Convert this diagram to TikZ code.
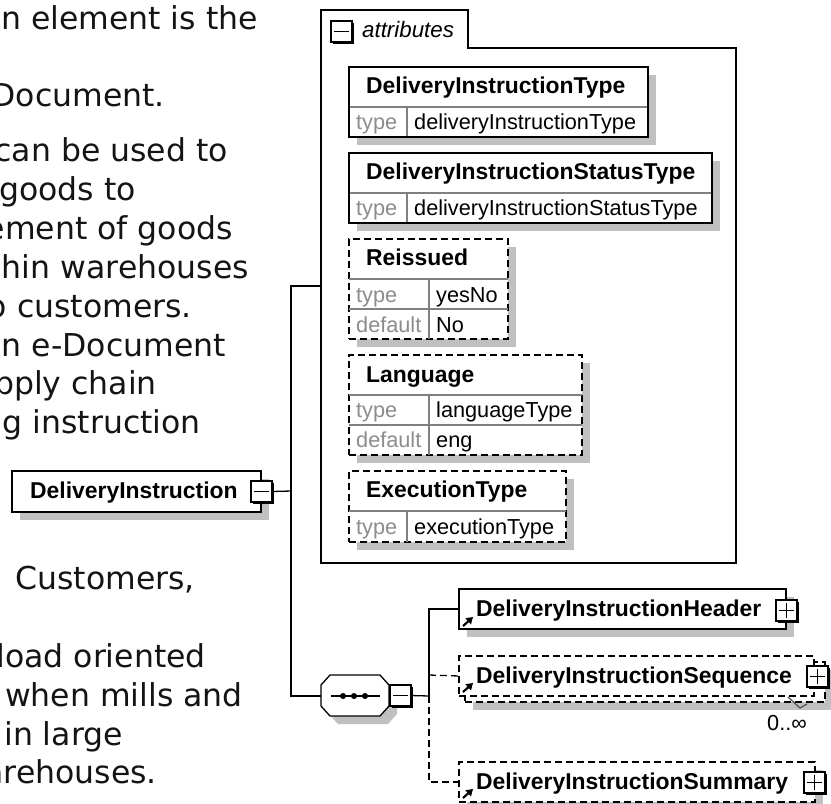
\documentclass[tikz,border=0pt]{standalone}
\usepackage{fontspec}
\setmainfont{Liberation Sans}
\newfontfamily\bodyfont{DejaVu Sans}
\usetikzlibrary{shadows,arrows.meta}
\definecolor{shade}{HTML}{C0C0C0}
\definecolor{rowgray}{HTML}{808080}
\definecolor{labelgray}{HTML}{8C8C8C}
\tikzset{
  basebox/.style={anchor=north west,inner sep=0,outer sep=0,fill=white,line width=1.3pt,
    drop shadow={shadow xshift=8pt,shadow yshift=-8pt,fill=shade,opacity=1}},
  solidbox/.style={basebox,draw=black},
  dashbox/.style={basebox,draw=black,dash pattern=on 7pt off 4pt},
  plainbox/.style={anchor=north west,inner sep=0,outer sep=0,fill=white,line width=1.3pt,draw=black,dash pattern=on 7pt off 4pt},
  pmbox/.style={anchor=north west,draw=black,fill=white,line width=1.3pt,inner sep=0,outer sep=0,
    minimum width=21pt,minimum height=21pt,
    drop shadow={shadow xshift=2pt,shadow yshift=-2pt,fill=black,opacity=1}},
  minusbox/.style={pmbox,path picture={\draw[line width=1.1pt] ([xshift=3pt]path picture bounding box.west)--([xshift=-3pt]path picture bounding box.east);}},
  plusbox/.style={pmbox,path picture={\draw[line width=1.1pt] ([xshift=3pt]path picture bounding box.west)--([xshift=-3pt]path picture bounding box.east);
    \draw[line width=1.1pt] ([yshift=-3pt]path picture bounding box.north)--([yshift=3pt]path picture bounding box.south);}},
  body/.style={anchor=base east,inner sep=0,font=\bodyfont\fontsize{31.5}{32}\selectfont,text=black!92},
  title/.style={anchor=base west,inner sep=0,font=\fontsize{22.9}{23}\selectfont\bfseries},
  val/.style={anchor=base west,inner sep=0,font=\fontsize{21.7}{22}\selectfont},
  lab/.style={val,text=labelgray},
  rowline/.style={draw=rowgray,line width=1.2pt},
  conn/.style={draw=black,line width=1.3pt},
  dconn/.style={conn,dash pattern=on 7pt off 4pt},
  linkarrow/.style={line width=2.2pt,-{Triangle[length=6.5pt,width=8pt]}}
}
\begin{document}
\begin{tikzpicture}[x=1pt,y=-1pt]
\useasboundingbox (0,0) rectangle (831,804);
\clip (0,0) rectangle (831,804);
% left text
\node[body] (t1) at (258,29) {n element is the};
\node[body] (t2) at (165,106) {Document.};
\node[body] (t3) at (228,161) {can be used to};
\node[body] (t4) at (136,200) {goods to};
\node[body] (t5) at (233,239) {ement of goods};
\node[body] (t6) at (249,278) {hin warehouses};
\node[body] (t7) at (192,317) {o customers.};
\node[body] (t8) at (226,356) {n e-Document};
\node[body] (t9) at (157,394) {pply chain};
\node[body] (t10) at (201,433) {g instruction};
\node[body] (t11) at (195,589) {Customers,};
\node[body] (t12) at (206,667) {load oriented};
\node[body] (t13) at (243,706) {when mills and};
\node[body] (t14) at (123,745) {in large};
\node[body] (t15) at (157,783) {arehouses.};
% connector ports
\coordinate (attrport) at (321,286);
\coordinate (treetop) at (291,286);
\coordinate (treemid) at (291,491);
\coordinate (jn) at (429,696);
\coordinate (jnseq) at (429,675);
\coordinate (seq) at (321,696);
% attribute container
\draw[line width=1.3pt,fill=white] (321,10) -- (468,10) -- (468,48) -- (736,48) -- (736,563) -- (321,563) -- cycle;
\node[minusbox] (attrmin) at (331,21) {};
\node[anchor=base west,inner sep=0,font=\fontsize{22.3}{22}\selectfont\itshape] (attrlab) at (362,37) {attributes};
% attr 1
\node[solidbox,minimum width=299pt,minimum height=70pt] (a1) at (349,67) {};
\draw[rowline] (349,107) -- (648,107) (407,107) -- (407,137);
\draw[conn] (a1.north west) rectangle (a1.south east);
\node[title] (a1t) at (366,93) {DeliveryInstructionType};
\node[lab] (a1l) at (356,129) {type};
\node[val] (a1v) at (414,129) {deliveryInstructionType};
% attr 2
\node[solidbox,minimum width=363pt,minimum height=70pt] (a2) at (349,153) {};
\draw[rowline] (349,193) -- (712,193) (407,193) -- (407,223);
\draw[conn] (a2.north west) rectangle (a2.south east);
\node[title] (a2t) at (366,179) {DeliveryInstructionStatusType};
\node[lab] (a2l) at (356,215) {type};
\node[val] (a2v) at (414,215) {deliveryInstructionStatusType};
% attr 3
\node[dashbox,minimum width=159pt,minimum height=100pt] (a3) at (349,239) {};
\draw[rowline] (349,279) -- (508,279) (349,309) -- (508,309) (429,279) -- (429,339);
\node[title] (a3t) at (366,265) {Reissued};
\node[lab] (a3l) at (356,302) {type};
\node[val] (a3v) at (436,302) {yesNo};
\node[lab] (a3m) at (356,332) {default};
\node[val] (a3w) at (436,332) {No};
% attr 4
\node[dashbox,minimum width=233pt,minimum height=100pt] (a4) at (349,355) {};
\draw[rowline] (349,395) -- (582,395) (349,425) -- (582,425) (429,395) -- (429,455);
\node[title] (a4t) at (366,382) {Language};
\node[lab] (a4l) at (356,417) {type};
\node[val] (a4v) at (436,417) {languageType};
\node[lab] (a4m) at (356,447) {default};
\node[val] (a4w) at (436,447) {eng};
% attr 5
\node[dashbox,minimum width=217pt,minimum height=71pt] (a5) at (349,471) {};
\draw[rowline] (349,511) -- (566,511) (407,511) -- (407,542);
\node[title] (a5t) at (366,497) {ExecutionType};
\node[lab] (a5l) at (356,534) {type};
\node[val] (a5v) at (414,534) {executionType};
% root element
\node[solidbox,minimum width=249pt,minimum height=41pt] (root) at (12,471) {};
\node[title] (roott) at (30,498) {DeliveryInstruction};
\node[minusbox] (rootmin) at (251,481) {};
% sequence compositor
\draw[line width=1.3pt,fill=white,drop shadow={shadow xshift=8pt,shadow yshift=-8pt,fill=shade,opacity=1}]
  (330,675) -- (380,675) -- (389,685) -- (389,706) -- (380,716) -- (330,716) -- (321,706) -- (321,685) -- cycle;
\draw[line width=1.3pt] (331,696) -- (380,696);
\foreach \px/\nm in {343/da,354/db,365/dc}{\node[draw=black,fill=black,circle,inner sep=0,minimum size=5.5pt] (\nm) at (\px,696) {};}
\node[minusbox] (seqmin) at (390,685) {};
% children
\node[solidbox,minimum width=327pt,minimum height=40pt] (hdr) at (459,589) {};
\node[title] (hdrt) at (476,616) {DeliveryInstructionHeader};
\draw[linkarrow] (463,626) -- (473,617);
\node[plusbox] (hdrp) at (776,600) {};
% sequence with stack
\node[dashbox,minimum width=360pt,minimum height=40pt] (seqback) at (465,662) {};
\node[plainbox,minimum width=355pt,minimum height=40pt] (seqel) at (459,656) {};
\node[title] (seqt) at (476,683) {DeliveryInstructionSequence};
\draw[linkarrow] (463,692) -- (473,683);
\node[plusbox] (seqp) at (807,666) {};
\draw[line width=1.2pt,draw=black!70] (788,697) -- (800,708) -- (807,704);
\node[val,font=\fontsize{21.7}{22}\selectfont] (mult) at (767,730) {0..∞};
% summary
\node[dashbox,minimum width=356pt,minimum height=40pt] (sum) at (459,762) {};
\node[title] (sumt) at (476,789) {DeliveryInstructionSummary};
\draw[linkarrow] (463,798) -- (473,789);
\node[plusbox] (sump) at (804,772) {};
% connectors
\draw[conn] (rootmin.east) -- (treemid);
\draw[conn] (attrport) -- (treetop) |- (seq);
\draw[conn] (seqmin.east) -- (jn);
\draw[conn] (jn) |- (hdr.west);
\draw[dconn] (jnseq) -- (seqel.west);
\draw[dconn] (jn) |- (sum.west);
\end{tikzpicture}
\end{document}
